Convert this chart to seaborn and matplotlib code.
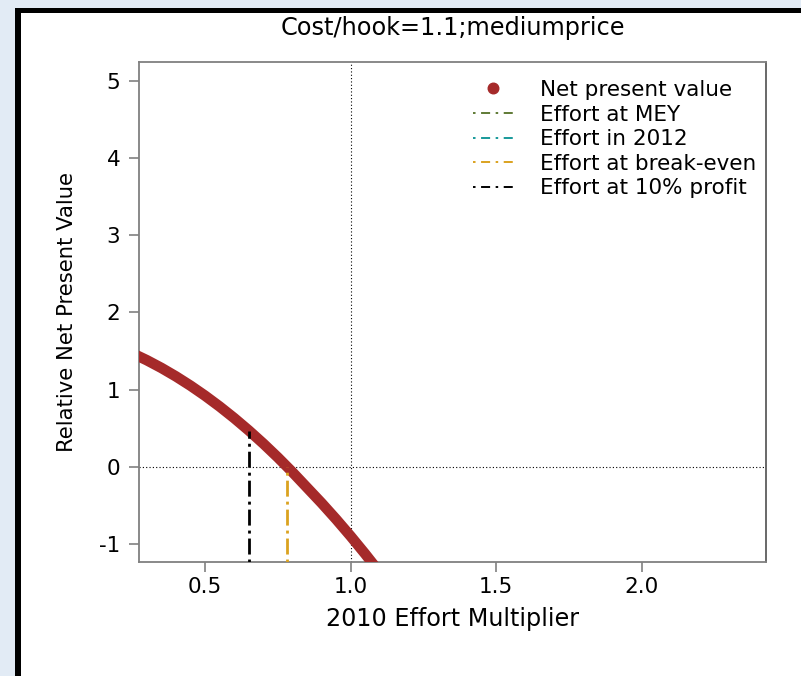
import matplotlib
matplotlib.use("Agg")
import matplotlib.pyplot as plt
import seaborn as sns
import pandas as pd
from matplotlib.lines import Line2D
from matplotlib.patches import Rectangle

# ---------------- data ----------------
effort = [0.25, 0.30, 0.35, 0.40, 0.45, 0.50, 0.55, 0.60, 0.65, 0.70,
          0.75, 0.80, 0.85, 0.90, 0.95, 1.00, 1.05, 1.10]
npv = [1.47, 1.38, 1.28, 1.17, 1.05, 0.92, 0.78, 0.63, 0.47, 0.30,
       0.12, -0.07, -0.27, -0.47, -0.68, -0.90, -1.13, -1.37]

ref_effort = [0.652, 0.782]          # effort at 10% profit, effort at break-even
ref_npv = [0.46, 0.0]
ref_colors = ["black", "#dba21f"]

legend_labels = ["Net present value", "Effort at MEY", "Effort in 2012",
                 "Effort at break-even", "Effort at 10% profit"]
legend_colors = ["#a52a2a", "#5f7a35", "#17999a", "#dba21f", "black"]

x_ticks = [0.5, 1.0, 1.5, 2.0]
x_ticklabels = ["0.5", "1.0", "1.5", "2.0"]
y_ticks = [-1, 0, 1, 2, 3, 4, 5]
y_ticklabels = ["-1", "0", "1", "2", "3", "4", "5"]
x_lim = (0.273, 2.427)
y_lim = (-1.235, 5.245)

title = "Cost/hook=1.1;mediumprice"
x_label = "2010 Effort Multiplier"
y_label = "Relative Net Present Value"

# ---------------- style ----------------
sns.set_theme(style="ticks")
plt.rcParams['font.family'] = ['DejaVu Sans']
plt.rcParams['text.color'] = 'black'
plt.rcParams['axes.labelcolor'] = 'black'

W, H = 801, 676
fig = plt.figure(figsize=(W / 100, H / 100), dpi=100, facecolor="#e2ebf5")

# white panel with black border (left & top visible)
fig.add_artist(Rectangle((15.5 / W, -0.1), 2, (H - 7.5) / H + 0.1,
                         transform=fig.transFigure, facecolor="black",
                         edgecolor="none", zorder=-10))
fig.add_artist(Rectangle((21.3 / W, -0.1), 2, (H - 12.7) / H + 0.1,
                         transform=fig.transFigure, facecolor="white",
                         edgecolor="none", zorder=-9))

ax = fig.add_axes([139 / W, (H - 562) / H, 627 / W, 500 / H])
ax.set_facecolor("white")

df = pd.DataFrame({"effort": effort, "npv": npv})
sns.lineplot(data=df, x="effort", y="npv", ax=ax, color="#a52a2a",
             linewidth=7.6, solid_capstyle="round", solid_joinstyle="round",
             legend=False, zorder=3)

line_dash = (0, (1.07, 1.8, 5.75, 1.8))
for xe, yv, c in zip(ref_effort, ref_npv, ref_colors):
    ax.plot([xe, xe], [y_lim[0], yv], color=c, linestyle=line_dash,
            linewidth=2.0, zorder=4)

ax.axvline(1.0, color="black", linestyle=(0, (1, 2)), linewidth=0.8, zorder=2)
ax.axhline(0.0, color="black", linestyle=(0, (1, 2)), linewidth=0.8, zorder=2)

ax.set_xlim(*x_lim)
ax.set_ylim(*y_lim)
ax.set_xticks(x_ticks)
ax.set_xticklabels(x_ticklabels)
ax.set_yticks(y_ticks)
ax.set_yticklabels(y_ticklabels)

ax.tick_params(axis="both", direction="out", length=7, width=1.2,
               color="#808080", labelcolor="black", labelsize=15.5)
ax.tick_params(axis="x", pad=3.8)
ax.tick_params(axis="y", pad=6.5)

for side in ["left", "bottom", "top"]:
    ax.spines[side].set_color("#808080")
    ax.spines[side].set_linewidth(1.3)
ax.spines["right"].set_color("#404040")
ax.spines["right"].set_linewidth(1.1)

ax.set_title(title, fontsize=17.3, pad=19.4, color="black")
ax.set_xlabel(x_label, fontsize=17.2)
ax.xaxis.set_label_coords(0.5, (562 - 626) / 500)
ax.xaxis.label.set_va("baseline")
ax.set_ylabel(y_label, fontsize=15.2)
ax.yaxis.set_label_coords((73.3 - 139) / 627, 0.5)
ax.yaxis.label.set_va("baseline")

legend_dash = (0, (1.3, 2.85, 4.65, 2.85))
handles = [Line2D([], [], marker="o", linestyle="none", color=legend_colors[0],
                  markersize=7.6)]
for c in legend_colors[1:]:
    handles.append(Line2D([], [], color=c, linestyle=legend_dash, linewidth=1.4))
ax.legend(handles, legend_labels, loc="upper left",
          bbox_to_anchor=((473 - 139) / 627, 1 - (80 - 62) / 500),
          frameon=False, fontsize=15.5, handlelength=1.85, handletextpad=1.25,
          labelspacing=0.21, borderpad=0, borderaxespad=0)

fig.savefig("out.png", dpi=100, facecolor=fig.get_facecolor())
